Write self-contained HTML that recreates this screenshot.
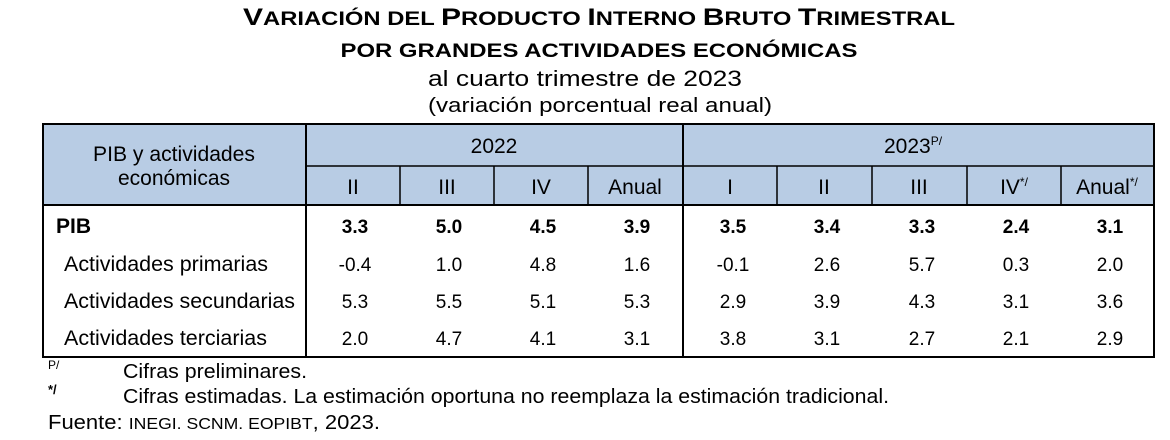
<!DOCTYPE html>
<html><head><meta charset="utf-8"><style>
html,body{margin:0;padding:0;background:#fff;}
svg{display:block;font-family:"Liberation Sans",Arial,sans-serif;}
</style></head><body>
<svg width="1170" height="440" viewBox="0 0 1170 440" xmlns="http://www.w3.org/2000/svg">
<g fill="#000" text-anchor="middle">
<text x="599" y="25" font-weight="bold" font-size="24" textLength="712" lengthAdjust="spacingAndGlyphs">V<tspan font-size="19">ARIACIÓN DEL </tspan>P<tspan font-size="19">RODUCTO </tspan>I<tspan font-size="19">NTERNO </tspan>B<tspan font-size="19">RUTO </tspan>T<tspan font-size="19">RIMESTRAL</tspan></text>
<text x="599" y="57" font-weight="bold" font-size="19" textLength="517" lengthAdjust="spacingAndGlyphs">POR GRANDES ACTIVIDADES ECONÓMICAS</text>
<text x="585" y="86" font-size="22" textLength="314" lengthAdjust="spacingAndGlyphs">al cuarto trimestre de 2023</text>
<text x="600" y="112" font-size="20" textLength="344" lengthAdjust="spacingAndGlyphs">(variación porcentual real anual)</text>
</g>
<rect x="43" y="124" width="1111" height="81" fill="#b8cce4"/>
<g stroke="#000" stroke-width="1.5" fill="none">
<rect x="43" y="124" width="1111" height="233" stroke-width="2"/>
<line x1="43" y1="205" x2="1154" y2="205" stroke-width="2"/>
<line x1="306" y1="124" x2="306" y2="357" stroke-width="2"/>
<line x1="683" y1="124" x2="683" y2="357" stroke-width="2"/>
<line x1="306" y1="166" x2="1154" y2="166"/>
<line x1="400" y1="166" x2="400" y2="205"/>
<line x1="494" y1="166" x2="494" y2="205"/>
<line x1="588" y1="166" x2="588" y2="205"/>
<line x1="777" y1="166" x2="777" y2="205"/>
<line x1="872" y1="166" x2="872" y2="205"/>
<line x1="967" y1="166" x2="967" y2="205"/>
<line x1="1061" y1="166" x2="1061" y2="205"/>
</g>
<g font-size="21" text-anchor="middle" fill="#000">
<text x="174" y="161" textLength="162" lengthAdjust="spacingAndGlyphs">PIB y actividades</text>
<text x="174" y="185">económicas</text>
<text x="494" y="153">2022</text>
<text x="913" y="153">2023<tspan font-size="12" dy="-8">P/</tspan></text>
<text x="353" y="194">II</text><text x="447" y="194">III</text><text x="541" y="194">IV</text><text x="635" y="194">Anual</text>
<text x="730" y="194">I</text><text x="824" y="194">II</text><text x="919" y="194">III</text>
<text x="1014" y="194">IV<tspan font-size="12" dy="-8">*/</tspan></text>
<text x="1107" y="194">Anual<tspan font-size="12" dy="-8">*/</tspan></text>
</g>
<g font-size="21" fill="#000">
<text x="56" y="233" font-weight="bold">PIB</text>
<text x="64" y="271" textLength="204" lengthAdjust="spacingAndGlyphs">Actividades primarias</text>
<text x="64" y="308" textLength="231" lengthAdjust="spacingAndGlyphs">Actividades secundarias</text>
<text x="64" y="345" textLength="203" lengthAdjust="spacingAndGlyphs">Actividades terciarias</text>
</g>
<g font-size="19" text-anchor="middle" fill="#000">
<g font-weight="bold">
<text x="355" y="233">3.3</text><text x="449" y="233">5.0</text><text x="543" y="233">4.5</text><text x="637" y="233">3.9</text>
<text x="733" y="233">3.5</text><text x="827" y="233">3.4</text><text x="922" y="233">3.3</text><text x="1016" y="233">2.4</text><text x="1110" y="233">3.1</text>
</g>
<text x="355" y="271">-0.4</text><text x="449" y="271">1.0</text><text x="543" y="271">4.8</text><text x="637" y="271">1.6</text>
<text x="733" y="271">-0.1</text><text x="827" y="271">2.6</text><text x="922" y="271">5.7</text><text x="1016" y="271">0.3</text><text x="1110" y="271">2.0</text>
<text x="355" y="308">5.3</text><text x="449" y="308">5.5</text><text x="543" y="308">5.1</text><text x="637" y="308">5.3</text>
<text x="733" y="308">2.9</text><text x="827" y="308">3.9</text><text x="922" y="308">4.3</text><text x="1016" y="308">3.1</text><text x="1110" y="308">3.6</text>
<text x="355" y="345">2.0</text><text x="449" y="345">4.7</text><text x="543" y="345">4.1</text><text x="637" y="345">3.1</text>
<text x="733" y="345">3.8</text><text x="827" y="345">3.1</text><text x="922" y="345">2.7</text><text x="1016" y="345">2.1</text><text x="1110" y="345">2.9</text>
</g>
<g fill="#000">
<text x="48" y="369" font-size="12">P/</text>
<text x="123" y="378" font-size="20" textLength="184" lengthAdjust="spacingAndGlyphs">Cifras preliminares.</text>
<text x="48" y="394" font-size="13" font-weight="bold">*/</text>
<text x="123" y="403" font-size="20" textLength="766" lengthAdjust="spacingAndGlyphs">Cifras estimadas. La estimación oportuna no reemplaza la estimación tradicional.</text>
<text x="48" y="429" font-size="20" textLength="332" lengthAdjust="spacingAndGlyphs">Fuente: <tspan font-size="16">INEGI. SCNM. EOPIBT</tspan>, 2023.</text>
</g>
</svg>
</body></html>
